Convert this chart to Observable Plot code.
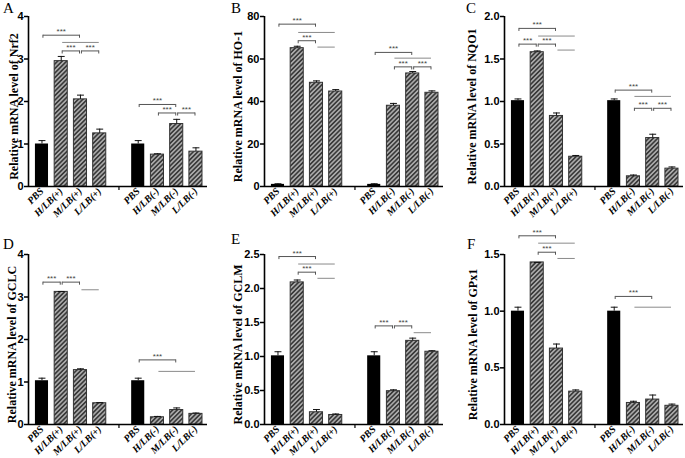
<!DOCTYPE html>
<html><head><meta charset="utf-8">
<script src="https://cdn.jsdelivr.net/npm/d3@7"></script>
<script src="https://cdn.jsdelivr.net/npm/@observablehq/plot@0.6"></script>
<style>
html,body{margin:0;padding:0;background:#fff;overflow:hidden;}
#wrap{position:relative;width:685px;height:458px;overflow:hidden;background:#fff;}
.panel{position:absolute;}
.panel svg{background:transparent;}
.letter{position:absolute;font-family:"Liberation Serif",serif;font-size:15px;line-height:15px;color:#000;}
</style></head><body>
<svg width="0" height="0" style="position:absolute">
<defs><pattern id="hatch" width="3.2" height="3.2" patternUnits="userSpaceOnUse" patternTransform="rotate(45)">
<rect width="3.2" height="3.2" fill="#a9a9a9"/><rect width="1.6" height="3.2" fill="#3a3a3a"/></pattern></defs></svg>
<div id="wrap"></div>
<script>
// x categories ("" is the gap slot between the two groups)
const categories = ["PBS","H/LB(+)","M/LB(+)","L/LB(+)","","PBS","H/LB(-)","M/LB(-)","L/LB(-)"];
const panelLetters = ["A","B","C","D","E","F"];
const genes = ["Nrf2","HO-1","NQO1","GCLC","GCLM","GPx1"];
const yMax = [4, 80, 2, 4, 2.5, 1.5];
const yTicks = [[0,1,2,3,4],[0,20,40,60,80],[0,0.5,1,1.5,2],[0,1,2,3,4],[0,0.5,1,1.5,2,2.5],[0,0.5,1,1.5]];
const yDecimals = [0, 0, 1, 0, 1, 1];

// means and error (upper SEM) per bar, order: PBS, H+, M+, L+, PBS, H-, M-, L-
const nrf2Mean = [1.0, 2.95, 2.05, 1.25, 1.0, 0.75, 1.47, 0.82];
const nrf2Err  = [0.08, 0.11, 0.10, 0.10, 0.08, 0.02, 0.11, 0.09];
const ho1Mean  = [1.0, 65.1, 48.8, 44.7, 1.0, 38.0, 53.2, 44.1];
const ho1Err   = [0.3, 0.9, 0.9, 0.9, 0.3, 1.1, 0.9, 0.9];
const nqo1Mean = [1.01, 1.58, 0.83, 0.35, 1.01, 0.12, 0.57, 0.21];
const nqo1Err  = [0.02, 0.015, 0.035, 0.015, 0.02, 0.015, 0.045, 0.02];
const gclcMean = [1.03, 3.12, 1.28, 0.50, 1.03, 0.17, 0.34, 0.25];
const gclcErr  = [0.06, 0.01, 0.03, 0.015, 0.06, 0.02, 0.05, 0.02];
const gclmMean = [1.01, 2.09, 0.18, 0.14, 1.01, 0.49, 1.23, 1.07];
const gclmErr  = [0.06, 0.035, 0.04, 0.015, 0.06, 0.02, 0.04, 0.015];
const gpx1Mean = [1.0, 1.43, 0.67, 0.29, 1.0, 0.19, 0.22, 0.165];
const gpx1Err  = [0.035, 0.0, 0.04, 0.015, 0.035, 0.015, 0.04, 0.015];

// significance brackets: [fromBar, toBar, level, showStars]
const nrf2Brackets = [[0,2,3.56,true],[1,3,3.39,false],[1,2,3.19,true],[2,3,3.19,true],[4,6,1.93,true],[5,6,1.73,true],[6,7,1.73,true]];
const ho1Brackets  = [[0,2,76.4,true],[1,3,72.5,false],[1,2,68.6,true],[2,3,65.6,false],[4,6,63.1,true],[5,7,60.4,false],[5,6,56.3,true],[6,7,56.3,true]];
const nqo1Brackets = [[0,2,1.86,true],[1,3,1.77,false],[0,1,1.675,true],[1,2,1.675,true],[2,3,1.605,false],[4,6,1.134,true],[5,7,1.06,false],[5,6,0.92,true],[6,7,0.92,true]];
const gclcBrackets = [[0,1,3.35,true],[1,2,3.35,true],[2,3,3.17,false],[4,6,1.52,true],[5,7,1.25,false]];
const gclmBrackets = [[0,2,2.47,true],[1,3,2.36,false],[1,2,2.24,true],[2,3,2.15,false],[4,5,1.45,true],[5,6,1.45,true],[6,7,1.35,false]];
const gpx1Brackets = [[0,2,1.665,true],[1,3,1.60,false],[1,2,1.52,true],[2,3,1.465,false],[4,6,1.13,true],[5,7,1.035,false]];

const means = [nrf2Mean, ho1Mean, nqo1Mean, gclcMean, gclmMean, gpx1Mean];
const errs = [nrf2Err, ho1Err, nqo1Err, gclcErr, gclmErr, gpx1Err];
const brackets = [nrf2Brackets, ho1Brackets, nqo1Brackets, gclcBrackets, gclmBrackets, gpx1Brackets];

const barPos = categories.map((c, i) => i).filter(i => categories[i] !== "");
const gapPos = categories.indexOf("");
const xDomain = [-0.7, 8.6];

const layout = {
  colLeft: [0, 220, 460], colMargin: [28, 44, 44],
  rowTop: [0, 224], rowMarginTop: [16, 30], rowMarginBottom: [42, 34],
  labelOff: [14, 26, 32, 16, 26, 31],
  letterPos: [[3,1],[231,1],[466,1],[3,237],[231,232],[467,237]]
};

const wrap = document.getElementById("wrap");

for (let i = 0; i < 6; i++) {
  const col = i % 3, row = Math.floor(i / 3);
  const top = yMax[i];
  const tickLen = top * 0.018;
  const rows = means[i].map((v, j) => ({pos: barPos[j], v, e: errs[i][j], pbs: categories[barPos[j]] === "PBS"}));
  const br = brackets[i].map(([a, b, lvl, s]) => ({x1: barPos[a] + 0.05, x2: barPos[b] - 0.05, y: lvl, s}));
  const brS = br.filter(d => d.s), brL = br.filter(d => !d.s);
  const ml = layout.colMargin[col];
  const w = ml + 179 + 6;
  const h = layout.rowMarginTop[row] + 170 + layout.rowMarginBottom[row];
  const fmt = yDecimals[i] ? d3.format(".1f") : d3.format("d");
  const chart = Plot.plot({
    width: w, height: h,
    marginLeft: ml, marginRight: 6,
    marginTop: layout.rowMarginTop[row], marginBottom: layout.rowMarginBottom[row],
    x: {domain: xDomain, axis: null},
    y: {domain: [0, top], axis: null},
    style: {background: "transparent", overflow: "visible"},
    marks: [
      Plot.rect(rows.filter(d => d.pbs), {x1: d => d.pos - 0.34, x2: d => d.pos + 0.34, y1: () => 0, y2: "v", fill: "#000"}),
      Plot.rect(rows.filter(d => !d.pbs), {x1: d => d.pos - 0.34, x2: d => d.pos + 0.34, y1: () => 0, y2: "v", fill: "url(#hatch)", stroke: "#333", strokeWidth: 1}),
      Plot.ruleX(rows, {x: "pos", y1: "v", y2: d => d.v + d.e, stroke: "#111", strokeWidth: 1}),
      Plot.link(rows, {x1: d => d.pos - 0.18, x2: d => d.pos + 0.18, y1: d => d.v + d.e, y2: d => d.v + d.e, stroke: "#111", strokeWidth: 1}),
      Plot.link(brL, {x1: "x1", x2: "x2", y1: "y", y2: "y", stroke: "#8a8a8a", strokeWidth: 1}),
      Plot.link(brS, {x1: "x1", x2: "x2", y1: "y", y2: "y", stroke: "#555", strokeWidth: 1}),
      Plot.ruleX(brS, {x: "x1", y1: "y", y2: d => d.y - tickLen, stroke: "#555", strokeWidth: 1}),
      Plot.ruleX(brS, {x: "x2", y1: "y", y2: d => d.y - tickLen, stroke: "#555", strokeWidth: 1}),
      Plot.text(brS, {x: d => (d.x1 + d.x2) / 2, y: "y", text: () => "***", lineAnchor: "bottom", dy: -1, fontSize: 8, fill: "#444", fontFamily: "Liberation Sans"}),
      Plot.ruleX([xDomain[0]], {stroke: "#000", strokeWidth: 1.6}),
      Plot.ruleY([0], {stroke: "#000", strokeWidth: 1.6}),
      Plot.axisY({ticks: yTicks[i], tickFormat: fmt, tickSize: 4, tickPadding: 1, strokeWidth: 1.5, fontSize: 11, fontWeight: "bold", fontFamily: "Liberation Sans", fill: "#000", label: null}),
      Plot.axisX({ticks: barPos, tickFormat: d => categories[d], tickSize: 0, tickPadding: 3, tickRotate: -45, fontSize: 10, fontWeight: "bold", fontStyle: "italic", fontFamily: "Liberation Serif", fill: "#000", label: null}),
      Plot.axisX({ticks: [gapPos], tickFormat: () => "", tickSize: 4, strokeWidth: 1.2, label: null}),
      Plot.text([genes[i]], {text: d => `Relative mRNA level of ${d}`, frameAnchor: "left", textAnchor: "middle", rotate: -90, dx: -layout.labelOff[i], dy: 5, fontSize: 12, fontWeight: "bold", fontFamily: "Liberation Serif", fill: "#000"})
    ]
  });
  const div = document.createElement("div");
  div.className = "panel";
  div.style.left = layout.colLeft[col] + "px";
  div.style.top = layout.rowTop[row] + "px";
  div.style.width = w + "px";
  div.style.height = h + "px";
  div.appendChild(chart);
  wrap.appendChild(div);

  const lt = document.createElement("div");
  lt.className = "letter";
  lt.textContent = panelLetters[i];
  lt.style.left = layout.letterPos[i][0] + "px";
  lt.style.top = layout.letterPos[i][1] + "px";
  wrap.appendChild(lt);
}
</script>
</body></html>
